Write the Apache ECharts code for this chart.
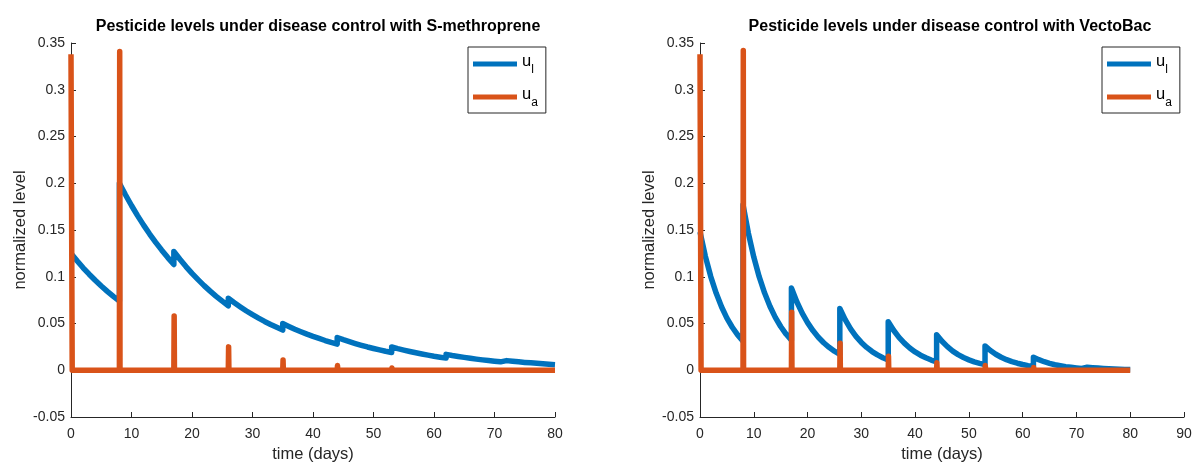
<!DOCTYPE html>
<html>
<head>
<meta charset="utf-8">
<script src="https://cdn.jsdelivr.net/npm/echarts@6/dist/echarts.min.js"></script>
<style>
html,body{margin:0;padding:0;background:#fff;}
#c{width:1194px;height:464px;}
</style>
</head>
<body>
<div id="c"></div>
<script>
// ---------- Data ----------
const titles = ['Pesticide levels under disease control with S-methroprene',
                'Pesticide levels under disease control with VectoBac'];
const seriesNames = ['ul', 'ua'];
const xLabel = 'time (days)';
const yLabel = 'normalized level';

// Daily sample times; each spraying day (8, 17, 26, ...) appears twice (before / after the jump)
const larvaTime = [0,1,2,3,4,5,6,7,8, 8,9,10,11,12,13,14,15,16,17, 17,18,19,20,21,22,23,24,25,26,
  26,27,28,29,30,31,32,33,34,35, 35,36,37,38,39,40,41,42,43,44, 44,45,46,47,48,49,50,51,52,53,
  53,54,55,56,57,58,59,60,61,62, 62,63,64,65,66,67,68,69,70,71, 71,72,73,74,75,76,77,78,79,80];

// S-methroprene: larvicide level u_l
const smLarvaVal = [0.125,0.1171,0.1096,0.1027,0.0962,0.0901,0.0844,0.0790,0.0740,
  0.200,0.1877,0.1762,0.1654,0.1552,0.1457,0.1368,0.1284,0.1205,0.1131,
  0.127,0.1187,0.1109,0.1036,0.0969,0.0905,0.0846,0.0791,0.0739,0.0690,
  0.077,0.0722,0.0677,0.0634,0.0594,0.0557,0.0522,0.0489,0.0459,0.0430,
  0.050,0.0469,0.0439,0.0412,0.0386,0.0362,0.0340,0.0318,0.0298,0.0280,
  0.035,0.0327,0.0306,0.0286,0.0267,0.0249,0.0233,0.0218,0.0203,0.0190,
  0.025,0.0232,0.0216,0.0201,0.0187,0.0174,0.0162,0.0150,0.0140,0.0130,
  0.017,0.0158,0.0148,0.0138,0.0128,0.0119,0.0111,0.0104,0.0097,0.0090,
  0.011,0.0103,0.0096,0.0090,0.0084,0.0079,0.0074,0.0069,0.0064,0.0060];

// VectoBac: larvicide level u_l
const vbLarvaVal = [0.148,0.1218,0.1002,0.0825,0.0679,0.0558,0.0460,0.0378,0.0311,
  0.177,0.1464,0.1211,0.1001,0.0828,0.0685,0.0566,0.0468,0.0387,0.0320,
  0.088,0.0733,0.0611,0.0509,0.0424,0.0353,0.0294,0.0245,0.0204,0.0170,
  0.066,0.0541,0.0443,0.0363,0.0298,0.0244,0.0200,0.0164,0.0134,0.0110,
  0.052,0.0428,0.0352,0.0290,0.0238,0.0196,0.0161,0.0133,0.0109,0.0090,
  0.038,0.0310,0.0252,0.0205,0.0167,0.0136,0.0111,0.0090,0.0074,0.0060,
  0.026,0.0211,0.0171,0.0139,0.0113,0.0092,0.0075,0.0061,0.0049,0.0040,
  0.014,0.0113,0.0091,0.0073,0.0059,0.0048,0.0038,0.0031,0.0025,0.0020,
  0.004,0.0033,0.0028,0.0023,0.0019,0.0016,0.0013,0.0011,0.0009,0.0008];

// Adulticide u_a: short pulses at each spraying day, zero in between
const adultTime = [0,0.2, 8,8.05,8.1, 17,17.05,17.1, 26,26.05,26.1, 35,35.05,35.1,
  44,44.05,44.1, 53,53.05,53.1, 62,62.05,62.1, 71,71.05,71.1, 80];
const smAdultVal = [0.338,0, 0,0.341,0, 0,0.058,0, 0,0.025,0, 0,0.011,0,
  0,0.005,0, 0,0.0025,0, 0,0.0012,0, 0,0.0006,0, 0];
const vbAdultVal = [0.338,0, 0,0.342,0, 0,0.062,0, 0,0.029,0, 0,0.015,0,
  0,0.008,0, 0,0.005,0, 0,0.003,0, 0,0.0015,0, 0];

const xMax = [80, 90];
const yMin = -0.05, yMax = 0.35, yStep = 0.05, xStep = 10;

// ---------- Chart ----------
const FONT = "'Liberation Sans', Arial, Helvetica, sans-serif";
const AX = '#262626';
const BLUE = '#0072BD', ORANGE = '#D95319';
const zip = (a, b) => a.map((v, i) => [v, b[i]]);

const grids = [
  {left: 71, width: 484, top: 43, height: 374, outerBoundsMode: 'none', containLabel: false},
  {left: 700, width: 484, top: 43, height: 374, outerBoundsMode: 'none', containLabel: false}
];

function xAxis(i) {
  return {
    type: 'value', gridIndex: i, min: 0, max: xMax[i], interval: xStep,
    name: xLabel, nameLocation: 'middle', nameGap: 29,
    nameTextStyle: {fontFamily: FONT, fontSize: 16.5, color: AX},
    axisLine: {onZero: false, lineStyle: {color: AX, width: 1}},
    axisTick: {inside: true, length: 5, lineStyle: {color: AX}},
    axisLabel: {fontFamily: FONT, fontSize: 14, color: AX, margin: 10},
    splitLine: {show: false}
  };
}
function yAxis(i) {
  return {
    type: 'value', gridIndex: i, min: yMin, max: yMax, interval: yStep,
    name: yLabel, nameLocation: 'middle', nameGap: 42,
    nameTextStyle: {fontFamily: FONT, fontSize: 16.5, color: AX},
    axisLine: {show: true, onZero: false, lineStyle: {color: AX, width: 1}},
    axisTick: {show: true, inside: true, length: 5, lineStyle: {color: AX}},
    axisLabel: {fontFamily: FONT, fontSize: 14, color: AX, margin: 6,
      formatter: v => String(+v.toFixed(2))},
    splitLine: {show: false}
  };
}
function line(name, i, data, color) {
  return {
    type: 'line', name: name, xAxisIndex: i, yAxisIndex: i, data: data,
    showSymbol: false, symbol: 'none', clip: false, animation: false,
    lineStyle: {color: color, width: 5.5, cap: 'butt', join: 'round'},
    itemStyle: {color: color}
  };
}
const legendRich = {
  u: {fontFamily: FONT, fontSize: 16.5, color: '#000', lineHeight: 22, verticalAlign: 'top'},
  s: {fontFamily: FONT, fontSize: 12, color: '#000', padding: [12, 0, 0, 0], lineHeight: 22}
};
function legend(i, left) {
  return {
    show: true, orient: 'vertical', left: left, top: 47,
    data: [{name: seriesNames[0] + '#' + i}, {name: seriesNames[1] + '#' + i}],
    icon: 'rect', itemWidth: 44, itemHeight: 5, itemGap: 9,
    padding: [5, 8, 4, 5], borderColor: AX, borderWidth: 1, backgroundColor: '#fff',
    formatter: n => '{u|u}{s|' + n.charAt(1) + '}',
    textStyle: {rich: legendRich}
  };
}

const chart = echarts.init(document.getElementById('c'), null, {renderer: 'canvas'});
chart.setOption({
  animation: false,
  backgroundColor: '#fff',
  title: [
    {text: titles[0], left: 313, top: 14, textAlign: 'center',
     textStyle: {fontFamily: FONT, fontSize: 16, fontWeight: 'bold', color: '#000'}},
    {text: titles[1], left: 945, top: 14, textAlign: 'center',
     textStyle: {fontFamily: FONT, fontSize: 16, fontWeight: 'bold', color: '#000'}}
  ],
  grid: grids,
  xAxis: [xAxis(0), xAxis(1)],
  yAxis: [yAxis(0), yAxis(1)],
  legend: [legend(0, 468), legend(1, 1102)],
  series: [
    line('ul#0', 0, zip(larvaTime, smLarvaVal), BLUE),
    line('ua#0', 0, zip(adultTime, smAdultVal), ORANGE),
    line('ul#1', 1, zip(larvaTime, vbLarvaVal), BLUE),
    line('ua#1', 1, zip(adultTime, vbAdultVal), ORANGE)
  ]
});
</script>
</body>
</html>
